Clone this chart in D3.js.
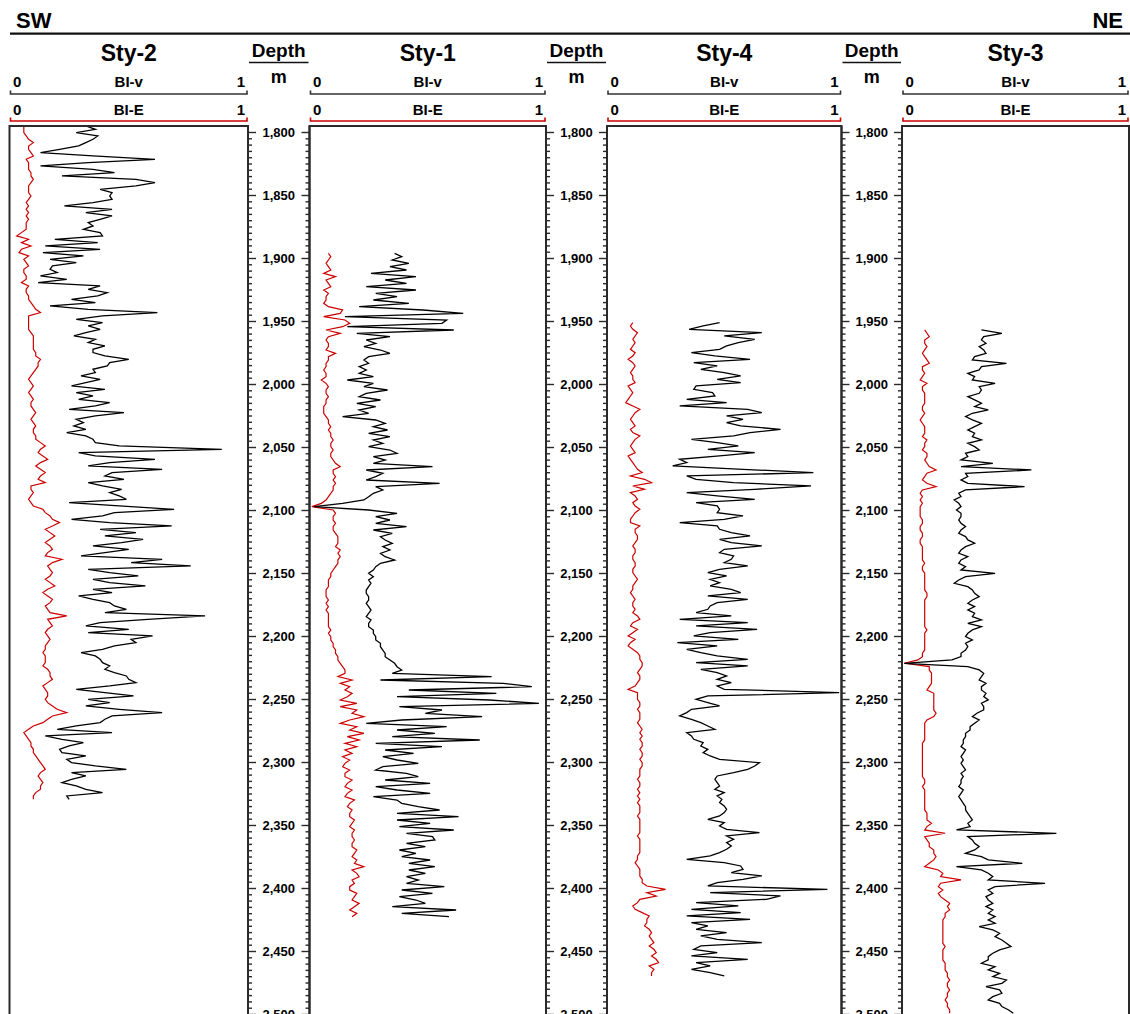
<!DOCTYPE html>
<html>
<head>
<meta charset="utf-8">
<script src="https://cdn.jsdelivr.net/npm/d3@7"></script>
<style>
  body { margin: 0; background: #fff; }
  svg text { font-family: "Liberation Sans", Arial, sans-serif; font-weight: bold; fill: #000; }
</style>
</head>
<body>
<div id="chart"></div>
<script>
// sampling step of the logs (m)
var step = 2.6455;

var wellNames = ["Sty-2", "Sty-1", "Sty-4", "Sty-3"];
var wellTops = [1795.2, 1896.3, 1951.3, 1957.1];
var curveNames = ["BI-v", "BI-E"];
var scaleLabels = ["0", "1"];

// BI-v (black) and BI-E (red) per well, top to bottom
var sty2BIv = [
  .32,.36,.28,.37,.35,.32,.29,.21,.13,.35,.61,.33,.13,.35,.44,.22,.53,.61,.53,.38,
  .43,.42,.43,.35,.23,.43,.32,.43,.38,.33,.35,.31,.38,.39,.19,.37,.15,.38,.14,.31,
  .17,.28,.18,.17,.20,.13,.24,.12,.38,.33,.41,.37,.26,.36,.17,.33,.62,.39,.28,.39,
  .33,.38,.32,.27,.36,.33,.40,.35,.35,.40,.50,.42,.41,.35,.36,.30,.38,.32,.26,.40,
  .28,.35,.29,.42,.36,.25,.48,.36,.28,.31,.27,.32,.24,.32,.35,.36,.46,.89,.29,.36,
  .61,.42,.33,.64,.43,.40,.48,.33,
  .39,.47,.42,.46,.49,.25,.46,.69,.44,.39,.26,.42,.68,.38,.53,.40,.56,.47,.35,.50,
  .40,.30,.64,.51,.76,.33,.42,.54,.35,.42,.57,.35,.43,.29,.35,.42,.44,.49,.40,.82,
  .58,.38,.32,.50,.33,.60,.51,.53,.44,.39,.30,.36,.38,.39,.42,.40,.44,.49,.50,.53,
  .42,.28,.40,.52,.33,.42,.32,.46,.64,.43,.40,.38,.28,.20,.43,.15,.22,.31,.25,.21,
  .22,.32,.24,.26,.36,.49,.26,.32,.26,.22,.28,.32,.39,.24,.25
];
var sty2BIE = [
  .06,.06,.06,.07,.08,.10,.08,.08,.09,.10,.07,.08,.08,.08,.09,.09,.10,.09,.08,.08,
  .08,.09,.08,.07,.08,.07,.08,.07,.08,.07,.07,.07,.05,.03,.08,.05,.09,.05,.04,.08,
  .06,.07,.08,.06,.06,.07,.07,.05,.08,.07,.07,.08,.08,.09,.10,.11,.13,.08,.08,.08,
  .08,.08,.09,.10,.10,.10,.10,.10,.11,.11,.13,.12,.12,.11,.10,.09,.08,.09,.10,.09,
  .08,.09,.10,.09,.09,.10,.11,.10,.09,.10,.11,.10,.10,.11,.11,.13,.15,.13,.12,.14,
  .16,.13,.11,.13,.15,.13,.12,.15,
  .09,.09,.10,.09,.08,.09,.10,.14,.15,.17,.18,.21,.18,.15,.17,.19,.17,.15,.17,.18,
  .16,.15,.22,.18,.16,.17,.18,.17,.15,.17,.19,.16,.14,.16,.18,.17,.15,.16,.17,.24,
  .16,.17,.18,.16,.15,.16,.17,.16,.15,.15,.14,.15,.15,.15,.14,.16,.17,.17,.18,.16,
  .14,.15,.16,.16,.15,.16,.18,.20,.24,.18,.16,.14,.10,.08,.06,.07,.08,.09,.09,.10,
  .10,.11,.12,.13,.14,.15,.13,.12,.13,.14,.13,.13,.11,.10,.10
];

var sty1BIv = [
  .36,.39,.35,.42,.34,.41,.26,.45,.32,.41,.24,.45,.28,.37,.27,.42,.21,.48,.65,.15,
  .58,.56,.16,.61,.20,.34,.24,.28,.23,.30,.34,.25,.23,.25,.21,.24,.21,.27,.16,.27,
  .23,.33,.24,.21,.30,.20,.28,.21,.25,.14,.28,.32,.27,.33,.25,.34,.27,.31,.25,.34,
  .37,.27,.32,.27,.52,.24,.31,.28,.24,.55,.28,.31,.27,.25,.23,.14,.02,.25,.37,.28,
  .34,.28,.41,.27,.35,.30,.32,.35,.31,.34,.30,.32,.36,.30,.28,.27,.25,.27,.25,.26,
  .25,.24,.24,.25,.25,.24,.25,.26,.25,.24,.26,.25,.25,.27,.27,.28,.28,.30,.30,.31,
  .32,.32,.34,.36,.37,.39,.35,.77,.30,.82,.94,.42,.79,.37,.76,.97,.38,.56,.49,.73,
  .39,.24,.58,.37,.53,.35,.72,.28,.56,.32,.44,.31,.37,.46,.31,.28,.41,.46,.32,.51,
  .28,.37,.51,.27,.37,.39,.46,.55,.37,.63,.37,.51,.38,.61,.41,.52,.53,.41,.49,.38,
  .45,.39,.51,.42,.53,.42,.49,.41,.46,.41,.57,.39,.52,.38,.45,.49,.35,.62,.39,.59
];
var sty1BIE = [
  .08,.09,.08,.07,.08,.09,.06,.11,.07,.08,.09,.06,.08,.07,.07,.06,.08,.14,.13,.06,
  .15,.17,.14,.07,.13,.08,.07,.08,.08,.07,.11,.08,.08,.07,.07,.06,.07,.07,.05,.07,
  .08,.07,.07,.08,.07,.07,.06,.06,.06,.07,.08,.08,.09,.08,.09,.09,.10,.09,.09,.10,
  .09,.09,.10,.11,.13,.10,.10,.11,.10,.11,.10,.10,.09,.08,.07,.05,.01,.10,.11,.10,
  .10,.11,.10,.10,.11,.12,.12,.12,.11,.13,.12,.13,.12,.12,.11,.10,.09,.09,.08,.08,
  .08,.07,.07,.07,.08,.07,.08,.07,.08,.08,.08,.08,.08,.09,.08,.09,.09,.10,.10,.11,
  .11,.12,.12,.13,.14,.15,.15,.12,.18,.13,.17,.15,.18,.16,.13,.20,.13,.20,.18,.23,
  .17,.13,.20,.17,.23,.16,.21,.15,.20,.15,.18,.14,.17,.15,.14,.17,.15,.15,.18,.16,
  .15,.18,.16,.15,.19,.17,.16,.18,.17,.17,.19,.18,.17,.19,.18,.18,.19,.18,.18,.20,
  .19,.18,.20,.19,.23,.18,.20,.21,.18,.19,.17,.17,.20,.19,.18,.21,.19,.17,.20,.18
];

var sty4BIv = [
  .48,.41,.35,.66,.50,.63,.56,.51,.48,.36,.46,.61,.37,.47,.40,.50,.57,.47,.57,.38,
  .37,.45,.46,.34,.51,.31,.60,.66,.51,.58,.51,.57,.74,.61,.54,.36,.47,.56,.43,.63,
  .48,.31,.34,.28,.58,.88,.34,.38,.54,.87,.63,.34,.47,.63,.38,.47,.48,.47,.58,.50,
  .31,.47,.48,.53,.61,.48,.53,.66,.50,.48,.54,.53,.50,.60,.48,.43,.51,.44,.48,.44,
  .53,.57,.43,.60,.47,.44,.43,.38,.53,.31,.60,.38,.64,.44,.37,.56,.30,.47,.34,
  .40,.47,.60,.38,.60,.40,.47,.51,.47,.53,.47,.50,.99,.43,.38,.43,.48,.36,.34,.31,
  .36,.40,.43,.46,.34,.36,.37,.41,.40,.43,.41,.44,.48,.65,.63,.60,.54,.47,.46,.47,
  .48,.46,.50,.47,.49,.48,.50,.51,.50,.48,.43,.50,.48,.51,.65,.51,.54,.51,.53,.51,
  .48,.44,.34,.50,.57,.58,.53,.66,.58,.47,.43,.94,.44,.74,.68,.38,.56,.36,.57,.34,
  .61,.36,.43,.38,.51,.40,.47,.66,.40,.37,.47,.36,.60,.38,.44,.36,.44,.50
];
var sty4BIE = [
  .11,.10,.11,.13,.12,.11,.12,.11,.10,.12,.11,.09,.11,.12,.11,.10,.11,.11,.12,.09,
  .10,.11,.10,.09,.08,.11,.14,.12,.11,.10,.11,.12,.10,.11,.14,.12,.11,.10,.11,.12,
  .09,.10,.11,.12,.13,.15,.10,.16,.19,.11,.16,.10,.12,.13,.11,.12,.14,.12,.11,.10,
  .10,.14,.12,.12,.13,.13,.12,.11,.12,.12,.11,.11,.12,.12,.11,.11,.12,.13,.12,.11,
  .11,.10,.11,.12,.11,.11,.12,.11,.13,.14,.11,.10,.13,.11,.09,.12,.10,.09,.11,
  .13,.14,.14,.15,.15,.14,.13,.14,.14,.13,.12,.09,.13,.13,.13,.14,.14,.13,.14,.14,
  .14,.13,.14,.15,.14,.15,.14,.15,.15,.14,.15,.15,.14,.15,.15,.14,.14,.14,.13,.14,
  .14,.13,.14,.13,.14,.13,.14,.14,.14,.13,.14,.14,.14,.14,.14,.13,.14,.14,.14,.14,
  .14,.13,.13,.12,.13,.14,.14,.14,.15,.15,.17,.25,.17,.21,.14,.13,.11,.12,.15,.18,
  .17,.17,.16,.18,.19,.18,.19,.20,.18,.20,.21,.19,.21,.22,.18,.20,.19,.19
];

var sty3BIv = [
  .35,.44,.36,.35,.37,.34,.36,.37,.32,.31,.46,.35,.34,.29,.32,.31,.41,.34,.35,.34,
  .29,.32,.35,.32,.38,.31,.28,.31,.35,.32,.29,.32,.31,.35,.29,.32,.34,.28,.29,.26,
  .40,.26,.57,.28,.29,.26,.29,.54,.28,.25,.26,.23,.25,.26,.24,.26,.26,.25,.26,.28,
  .26,.25,.28,.29,.32,.28,.26,.25,.29,.26,.25,.28,.26,.41,.28,.25,.23,.29,.31,.32,
  .34,.31,.29,.32,.29,.32,.31,.35,.29,.35,.31,.29,.28,.31,.28,.29,.28,.26,.26,.22,
  .01,.29,
  .34,.36,.35,.34,.37,.35,.35,.37,.36,.38,.35,.36,.36,.33,.31,.34,.32,.30,.30,.28,
  .28,.27,.27,.26,.28,.27,.26,.27,.26,.27,.28,.26,.27,.26,.26,.25,.27,.26,.25,.26,
  .27,.28,.28,.29,.30,.31,.29,.30,.24,.68,.29,.31,.32,.34,.32,.28,.35,.38,.53,.24,
  .35,.38,.40,.38,.63,.41,.38,.40,.37,.38,.40,.37,.40,.38,.41,.38,.41,.34,.40,.43,
  .41,.44,.46,.48,.43,.40,.38,.38,.35,.41,.38,.43,.40,.46,.44,.37,.43,.44,.40,.38,
  .43,.44,.47,.49
];
var sty3BIE = [
  .10,.11,.12,.10,.10,.11,.10,.09,.10,.11,.12,.09,.09,.10,.09,.08,.11,.09,.09,.10,
  .10,.10,.10,.09,.09,.10,.09,.08,.09,.10,.10,.10,.09,.11,.10,.10,.09,.11,.11,.10,
  .11,.12,.15,.11,.10,.09,.11,.15,.09,.08,.09,.08,.09,.08,.08,.08,.08,.09,.09,.08,
  .08,.09,.09,.08,.08,.09,.09,.09,.09,.09,.10,.09,.09,.10,.10,.10,.10,.10,.10,.11,
  .11,.10,.10,.10,.10,.10,.10,.10,.10,.10,.11,.10,.10,.10,.10,.10,.10,.09,.09,.07,
  .01,.12,
  .12,.13,.13,.13,.13,.12,.11,.14,.14,.14,.14,.14,.14,.15,.14,.11,.10,.10,.10,.10,
  .10,.10,.09,.09,.09,.09,.09,.09,.09,.09,.09,.09,.09,.10,.10,.09,.10,.10,.10,.10,
  .10,.10,.10,.11,.11,.11,.13,.11,.10,.19,.10,.11,.12,.12,.14,.14,.15,.14,.12,.10,
  .16,.18,.17,.26,.17,.16,.18,.16,.17,.19,.21,.20,.21,.19,.19,.18,.18,.18,.18,.18,
  .18,.18,.18,.19,.18,.18,.18,.18,.19,.19,.19,.20,.20,.21,.20,.20,.21,.20,.20,.19,
  .20,.20,.21,.21
];

var wellBIv = [sty2BIv, sty1BIv, sty4BIv, sty3BIv];
var wellBIE = [sty2BIE, sty1BIE, sty4BIE, sty3BIE];

// layout
var width = 1130, height = 1014;
var plotTop = 126;
var tracks = [[9.5, 248], [309.5, 546], [607, 841.5], [902, 1129]];
var depthTracks = [[248, 309.5], [546, 607], [841.5, 902]];
var black = "#000", red = "#cc0000", frame = "#2a2a2a";

var svg = d3.select("#chart").append("svg")
    .attr("width", width)
    .attr("height", height);

// depth scale
var y = d3.scaleLinear()
    .domain([1800, 2500])
    .range([132, 1014]);

// SW - NE header
svg.append("text").attr("x", 16).attr("y", 28)
    .style("font-size", "22px").text("SW");
svg.append("text").attr("x", 1123).attr("y", 28)
    .attr("text-anchor", "end")
    .style("font-size", "22px").text("NE");
svg.append("line")
    .attr("x1", 10).attr("x2", width)
    .attr("y1", 33.7).attr("y2", 33.7)
    .attr("stroke", "#111").attr("stroke-width", 2.2);

// log tracks
tracks.forEach(function(t, i) {
  var left = t[0], right = t[1], mid = (left + right) / 2;
  var x = d3.scaleLinear().domain([0, 1]).range([left, right]);

  svg.append("text").attr("x", mid).attr("y", 61)
      .attr("text-anchor", "middle")
      .style("font-size", "23px").text(wellNames[i]);

  // curve headers
  [[87, 94, "#333"], [115, 121, red]].forEach(function(h, k) {
    svg.append("text").attr("x", left + 3.5).attr("y", h[0])
        .style("font-size", "15px").text(scaleLabels[0]);
    svg.append("text").attr("x", mid).attr("y", h[0])
        .attr("text-anchor", "middle")
        .style("font-size", "15px").text(curveNames[k]);
    svg.append("text").attr("x", right - 3).attr("y", h[0])
        .attr("text-anchor", "end")
        .style("font-size", "15px").text(scaleLabels[1]);
    svg.append("path")
        .attr("d", "M" + (left + 1) + "," + (h[1] - 3.5) + "V" + h[1] +
                   "H" + (right - 1) + "V" + (h[1] - 3.5))
        .attr("fill", "none")
        .attr("stroke", h[2]).attr("stroke-width", 1.6);
  });

  svg.append("clipPath").attr("id", "clip" + i)
    .append("rect")
      .attr("x", left).attr("y", plotTop)
      .attr("width", right - left).attr("height", height - plotTop);

  var top = wellTops[i];
  var line = d3.line()
      .x(function(v) { return x(v); })
      .y(function(v, j) { return y(top + j * step); });

  var g = svg.append("g").attr("clip-path", "url(#clip" + i + ")");
  g.append("path")
      .datum(wellBIE[i])
      .attr("d", line)
      .attr("fill", "none")
      .attr("stroke", red).attr("stroke-width", 1.2);
  g.append("path")
      .datum(wellBIv[i])
      .attr("d", line)
      .attr("fill", "none")
      .attr("stroke", black).attr("stroke-width", 1.3);

  svg.append("rect")
      .attr("x", left).attr("y", plotTop)
      .attr("width", right - left).attr("height", height - plotTop + 10)
      .attr("fill", "none")
      .attr("stroke", frame).attr("stroke-width", 2);
});

// depth tracks
var majorTicks = d3.range(1800, 2550, 50);
var minorTicks = d3.range(1800, 2520, 5).filter(function(d) { return d % 50 !== 0; });
var fmt = d3.format(",");

depthTracks.forEach(function(t) {
  var left = t[0], right = t[1], mid = (left + right) / 2;

  svg.append("text").attr("x", mid).attr("y", 57)
      .attr("text-anchor", "middle")
      .style("font-size", "19px").text("Depth");
  svg.append("line")
      .attr("x1", left + 1).attr("x2", right - 1)
      .attr("y1", 62.5).attr("y2", 62.5)
      .attr("stroke", "#111").attr("stroke-width", 1.6);
  svg.append("text").attr("x", mid).attr("y", 83)
      .attr("text-anchor", "middle")
      .style("font-size", "18px").text("m");

  var axes = [
    [d3.axisRight, left, minorTicks, 4], [d3.axisRight, left, majorTicks, 8],
    [d3.axisLeft, right, minorTicks, 4], [d3.axisLeft, right, majorTicks, 8]
  ];
  axes.forEach(function(a) {
    var ax = svg.append("g")
        .attr("transform", "translate(" + a[1] + ",0)")
        .call(a[0](y).tickValues(a[2]).tickSize(a[3]).tickFormat(""));
    ax.select(".domain").remove();
    ax.selectAll("line").attr("stroke", frame).attr("stroke-width", 1.4);
  });

  [left, right].forEach(function(xx) {
    svg.append("line")
        .attr("x1", xx).attr("x2", xx)
        .attr("y1", plotTop).attr("y2", height)
        .attr("stroke", frame).attr("stroke-width", 2);
  });

  // 2,500 sits on the bottom edge, cut as in the source figure
  svg.selectAll(null)
      .data(majorTicks)
    .enter().append("text")
      .attr("x", mid)
      .attr("y", function(d) { return y(d); })
      .attr("dy", "0.36em")
      .attr("text-anchor", "middle")
      .style("font-size", "13px")
      .text(function(d) { return fmt(d); });
});
</script>
</body>
</html>
